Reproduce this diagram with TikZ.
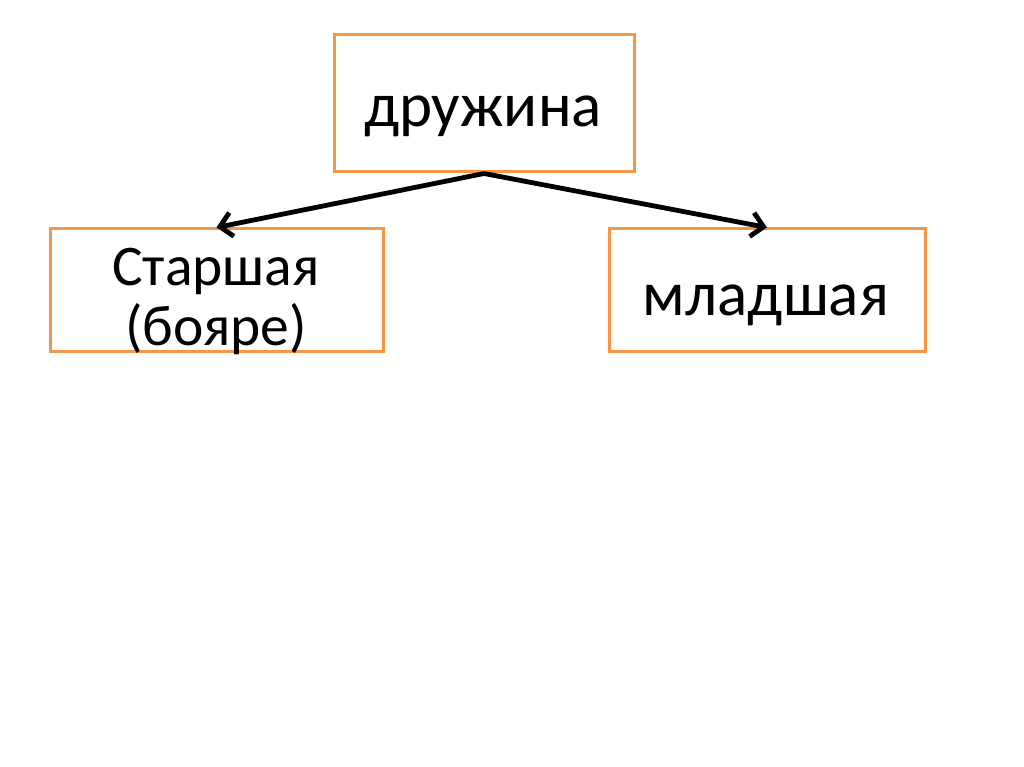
\documentclass[tikz,border=0pt]{standalone}
\usepackage{fontspec}
\setmainfont{Carlito}
\usetikzlibrary{arrows.meta}
\definecolor{boxorange}{RGB}{245,150,72}
\tikzset{
  box/.style={draw=boxorange, line width=3pt, rectangle, fill=white, inner sep=0pt},
  lbl/.style={inner sep=0pt, align=center, text=black},
  conn/.style={line width=4.8pt, draw=black, -{Straight Barb[length=12pt,width=24pt]}}
}
\begin{document}
\begin{tikzpicture}[x=1pt,y=-1pt]
\useasboundingbox[fill=white] (0,0) rectangle (1024,767);
\node[box, minimum width=300pt, minimum height=137pt] (top) at (484,103.5) {};
\node[box, minimum width=333pt, minimum height=122pt] (left) at (216.5,290) {};
\node[box, minimum width=316pt, minimum height=122pt] (right) at (767,290) {};
\node[lbl, font=\fontsize{63}{66}\selectfont, anchor=base] (ttop) at (483,127) {дружина};
\node[lbl, font=\fontsize{57.5}{60}\selectfont, anchor=base] (tl1) at (216,285) {Старшая};
\node[lbl, font=\fontsize{57.5}{60}\selectfont, anchor=base] (tl2) at (216,345) {(бояре)};
\node[lbl, font=\fontsize{63}{66}\selectfont, anchor=base] (tright) at (766,315) {младшая};
\draw[conn] (top.south) -- (left.north);
\draw[conn] (top.south) -- (right.north);
\end{tikzpicture}
\end{document}
